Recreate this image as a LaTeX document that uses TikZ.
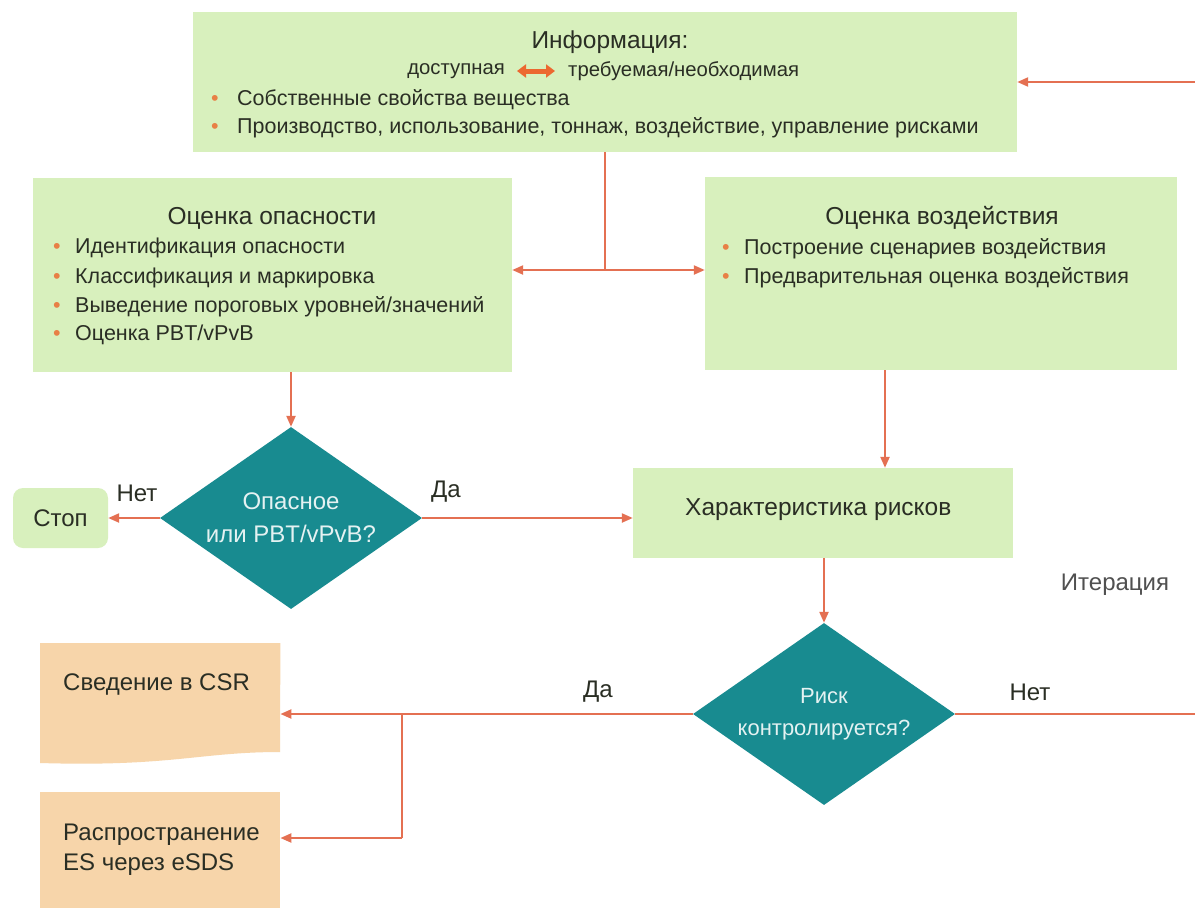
\documentclass[tikz,border=0pt]{standalone}
\usepackage{fontspec}
\setmainfont{Liberation Sans}
\usetikzlibrary{shapes.geometric,arrows.meta,calc}
\definecolor{boxg}{RGB}{216,240,189}
\definecolor{boxo}{RGB}{247,213,170}
\definecolor{tealc}{RGB}{24,139,144}
\definecolor{arrc}{RGB}{228,112,82}
\definecolor{dblc}{RGB}{236,104,48}
\definecolor{txtc}{RGB}{42,46,36}
\definecolor{greyc}{RGB}{80,80,80}
\definecolor{bulc}{RGB}{232,128,70}
\newcommand\bulx[1][22pt]{\makebox[#1][l]{\textcolor{bulc}{\textbullet}}}
\begin{document}
\begin{tikzpicture}[x=1pt,y=-1pt,
 gbox/.style={fill=boxg, draw=none, inner sep=0pt},
 t/.style={font=\fontsize{21.5}{25}\selectfont, text=txtc, inner sep=0pt},
 lbl/.style={font=\fontsize{24}{28}\selectfont, text=txtc, inner sep=0pt},
 ttl/.style={font=\fontsize{24.5}{29}\selectfont, text=txtc, inner sep=0pt},
 dec/.style={diamond, aspect=1.44, fill=tealc, minimum width=262pt, minimum height=182pt, inner sep=0pt, align=center, text={rgb,255:red,228;green,242;blue,242}, font=\fontsize{24}{33}\selectfont},
 arr/.style={draw=arrc, line width=2.2pt, -{Triangle[length=11pt,width=9pt]}},
 ln/.style={draw=arrc, line width=2.2pt}]

\useasboundingbox (0,0) rectangle (1195,908);
\clip (0,0) rectangle (1195,908);
\fill[white] (0,0) rectangle (1195,908);

% top box
\node[gbox, minimum width=824pt, minimum height=140pt] (info) at (605,82) {};
\node[ttl] (infot) at (610,42) {Информация:};
\node[t, font=\fontsize{20.3}{24}\selectfont, anchor=east] (avail) at (505,71) {доступная};
\node[t, font=\fontsize{20.3}{24}\selectfont, anchor=west] (need) at (568,71) {требуемая/необходимая};
\draw[draw=dblc, line width=5pt, {Triangle[length=9pt,width=13pt]}-{Triangle[length=9pt,width=13pt]}, shorten <=12pt, shorten >=13pt] (avail.east) -- (need.west);
\node[t, anchor=west] (i1) at (211,100) {\bulx[26pt]Собственные свойства вещества};
\node[t, anchor=west] (i2) at (211,128) {\bulx[26pt]Производство, использование, тоннаж, воздействие, управление рисками};

% hazard box
\node[gbox, minimum width=479pt, minimum height=194pt] (haz) at (272.5,275) {};
\node[ttl] (hazt) at (272,218) {Оценка опасности};
\node[t, anchor=west] (h1) at (53,248) {\bulx Идентификация опасности};
\node[t, anchor=west] (h2) at (53,278) {\bulx Классификация и маркировка};
\node[t, anchor=west] (h3) at (53,307) {\bulx Выведение пороговых уровней/значений};
\node[t, anchor=west] (h4) at (53,335) {\bulx Оценка PBT/vPvB};

% exposure box
\node[gbox, minimum width=472pt, minimum height=193pt] (expo) at (941,273.5) {};
\node[ttl] (expot) at (942,218) {Оценка воздействия};
\node[t, anchor=west] (e1) at (722,249) {\bulx Построение сценариев воздействия};
\node[t, anchor=west] (e2) at (722,278) {\bulx Предварительная оценка воздействия};

% split from info
\coordinate (jt) at (605,270);
\draw[ln] (info.south) -- (jt);
\draw[arr] (jt) -- (jt -| haz.east);
\draw[arr] (jt) -- (jt -| expo.west);

% decision 1
\node[dec] (d1) at (291,518) {Опасное\\или PBT/vPvB?};
\draw[arr] (d1.north |- haz.south) -- (d1.north);
\node[gbox, rounded corners=10pt, minimum width=95pt, minimum height=60pt, lbl] (stop) at (60.5,518) {Стоп};
\draw[arr] (d1.west) -- (stop.east);
\node[lbl] (no1) at (137,493) {Нет};

% risk characterisation
\node[gbox, minimum width=380pt, minimum height=90pt] (risk) at (823,513) {};
\node[ttl, anchor=west] (riskt) at (685,510) {Характеристика рисков};
\draw[arr] (d1.east) -- (d1.east -| risk.west);
\node[lbl] (yes1) at (446,492) {Да};
\coordinate (x885) at (885,0);
\draw[arr] (expo.south -| x885) -- (risk.north -| x885);

% decision 2
\node[dec, font=\fontsize{22}{32}\selectfont] (d2) at (824,714) {Риск\\контролируется?};
\draw[arr] (risk.south -| d2.north) -- (d2.north);
\node[lbl] (yes2) at (598,692) {Да};
\node[lbl] (no2) at (1030,692) {Нет};
\node[lbl, text=greyc] (iter) at (1115,585) {Итерация};
\draw[arr] (d2.east) -- (1240,714) |- (info.east);

% outputs
\node[minimum width=240pt, minimum height=120pt, inner sep=0pt, anchor=north west] (csr) at (40,643) {};
\fill[boxo] (csr.north west) -- (csr.north east) -- (280,752) .. controls (200,752) and (170,767) .. (40,763) -- cycle;
\node[lbl, anchor=west] (csrt) at (63,685) {Сведение в CSR};
\node[minimum width=240pt, minimum height=130pt, inner sep=0pt, anchor=north west] (esds) at (40,792) {};
\fill[boxo] (esds.north west) rectangle (esds.south east);
\node[lbl, anchor=west, align=left, font=\fontsize{24}{30}\selectfont] (esdst) at (63,850) {Распространение\\ES через eSDS};

\coordinate (jb) at (402,714);
\coordinate (jb2) at (402,838);
\draw[arr] (d2.west) -- (d2.west -| csr.east);
\draw[ln] (jb) -- (jb2);
\draw[arr] (jb2) -- (jb2 -| esds.east);
\end{tikzpicture}
\end{document}
